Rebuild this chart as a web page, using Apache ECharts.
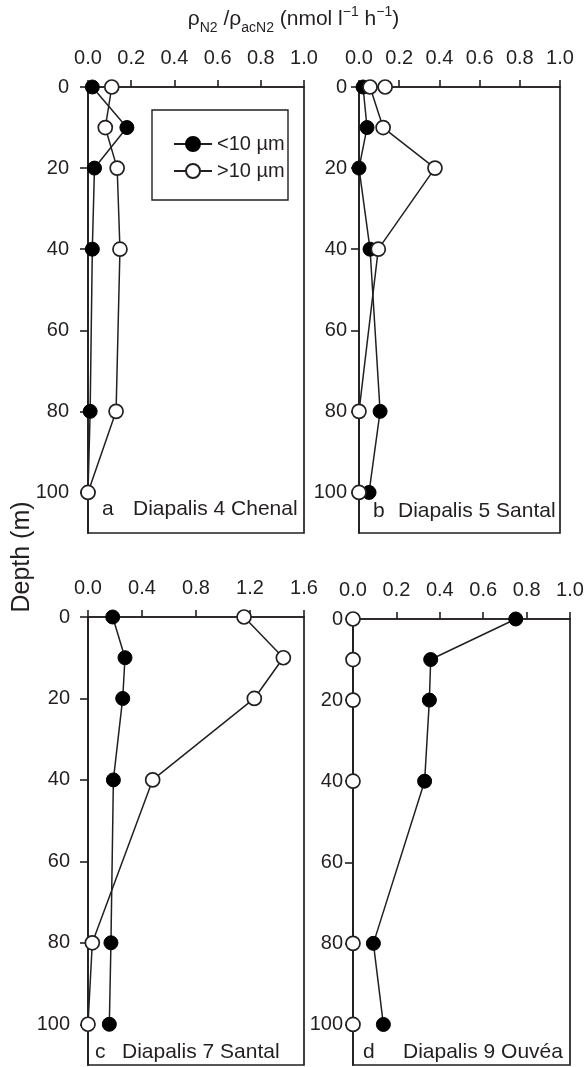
<!DOCTYPE html>
<html>
<head>
<meta charset="utf-8">
<script src="https://cdn.jsdelivr.net/npm/echarts@6/dist/echarts.min.js"></script>
<style>
html,body{margin:0;padding:0;background:#fff;}
#c{width:587px;height:1067px;}
</style>
</head>
<body>
<div id="c"></div>
<script>
// ---- data ----
const depths = [0, 10, 20, 40, 80, 100];
const depthTicks = [0, 20, 40, 60, 80, 100];
const xTicksAB = [0, 0.2, 0.4, 0.6, 0.8, 1.0];
const xTicksC = [0, 0.4, 0.8, 1.2, 1.6];
const seriesNames = ['<10 µm', '>10 µm'];
const panelLetters = ['a', 'b', 'c', 'd'];
const panelTitles = ['Diapalis 4 Chenal', 'Diapalis 5 Santal', 'Diapalis 7 Santal', 'Diapalis 9 Ouvéa'];

const aSmall = [0.02, 0.18, 0.03, 0.02, 0.01, 0.0];
const aLarge = [0.11, 0.08, 0.135, 0.148, 0.13, 0.0];
const bSmall = [0.02, 0.04, 0.0, 0.055, 0.105, 0.05];
const bLargeDepths = [0, 0, 10, 20, 40, 80, 100];
const bLarge = [0.13, 0.055, 0.12, 0.378, 0.096, 0.0, 0.0];
const cSmall = [0.183, 0.274, 0.257, 0.188, 0.17, 0.158];
const cLarge = [1.156, 1.447, 1.232, 0.479, 0.032, 0.0];
const dSmall = [0.75, 0.358, 0.352, 0.33, 0.094, 0.14];
const dLarge = [0.0, 0.0, 0.0, 0.0, 0.0, 0.0];

const xMax = [1.0, 1.0, 1.6, 1.0];
const xInterval = [0.2, 0.2, 0.4, 0.2];
const xTicks = [xTicksAB, xTicksAB, xTicksC, xTicksAB];
const depthMax = 110;

// ---- layout ----
const INK = '#231f20';
const FONT = 'Liberation Sans, Arial, Helvetica, sans-serif';
const grids = [
  {left: 88, top: 87, width: 216, height: 446},
  {left: 359, top: 87, width: 201, height: 446},
  {left: 88, top: 617, width: 216, height: 448},
  {left: 353, top: 619, width: 217, height: 446}
];
const yLabelMargin = [19, 12, 18, 10];
const labelPos = [
  {lx: 102, tx: 133, y: 509},
  {lx: 373, tx: 398, y: 511},
  {lx: 95, tx: 122, y: 1052},
  {lx: 363, tx: 403, y: 1052}
];

const pair = (vals, ds) => vals.map((v, k) => [v, (ds || depths)[k]]);
const panelData = [
  [pair(aSmall), pair(aLarge)],
  [pair(bSmall), pair(bLarge, bLargeDepths)],
  [pair(cSmall), pair(cLarge)],
  [pair(dSmall), pair(dLarge)]
];

const chart = echarts.init(document.getElementById('c'), null, {renderer: 'canvas'});

const gridOpt = grids.map(g => Object.assign({show: true, borderColor: INK, borderWidth: 1.7, backgroundColor: 'transparent'}, g));

const xAxes = grids.map((g, i) => ({
  type: 'value', gridIndex: i, position: 'top',
  min: 0, max: xMax[i], interval: xInterval[i],
  axisLine: {show: true, onZero: false, lineStyle: {color: INK, width: 1.7}},
  axisTick: {show: true, inside: false, length: 7, lineStyle: {color: INK, width: 1.6}, customValues: xTicks[i]},
  axisLabel: {show: true, margin: 19, color: INK, fontSize: 20, fontFamily: FONT,
    formatter: v => v.toFixed(1), customValues: xTicks[i]},
  splitLine: {show: false}
}));

const yAxes = grids.map((g, i) => ({
  type: 'value', gridIndex: i, inverse: true,
  min: 0, max: depthMax, interval: 20,
  axisLine: {show: true, onZero: false, lineStyle: {color: INK, width: 1.7}},
  axisTick: {show: true, inside: false, length: 8, lineStyle: {color: INK, width: 1.6}, customValues: depthTicks},
  axisLabel: {show: true, margin: yLabelMargin[i], color: INK, fontSize: 20, fontFamily: FONT,
    customValues: depthTicks},
  splitLine: {show: false}
}));

const series = [];
panelData.forEach((pd, i) => {
  series.push({
    name: seriesNames[0], type: 'line', xAxisIndex: i, yAxisIndex: i,
    data: pd[0], symbol: 'circle', symbolSize: 14, clip: false, z: 2,
    lineStyle: {color: INK, width: 1.5},
    itemStyle: {color: '#000', borderColor: '#000', borderWidth: 1},
    emphasis: {disabled: true}
  });
  series.push({
    name: seriesNames[1], type: 'line', xAxisIndex: i, yAxisIndex: i,
    data: pd[1], symbol: 'circle', symbolSize: 14, clip: false, z: 3,
    lineStyle: {color: INK, width: 1.5},
    itemStyle: {color: '#fff', borderColor: INK, borderWidth: 1.7},
    emphasis: {disabled: true}
  });
});

const graphics = [];
// title
graphics.push({
  type: 'text', left: 'center', top: 5, z: 10,
  style: {
    text: 'ρ{sub|N2} /ρ{sub|acN2} (nmol l{sup|−1} h{sup|−1})',
    fill: INK, font: '21px ' + FONT,
    rich: {
      sub: {fontSize: 14, fontFamily: FONT, fill: INK, verticalAlign: 'bottom', lineHeight: 14, padding: [0, 0, -3, 0]},
      sup: {fontSize: 14, fontFamily: FONT, fill: INK, verticalAlign: 'top', lineHeight: 14, padding: [-2, 0, 0, 0]}
    },
    lineHeight: 25
  }
});
// Depth label
graphics.push({
  type: 'text', x: 22, y: 557, rotation: Math.PI / 2, z: 10,
  style: {text: 'Depth (m)', fill: INK, font: '25px ' + FONT, align: 'center', verticalAlign: 'middle'}
});
// panel labels
labelPos.forEach((p, i) => {
  graphics.push({type: 'text', x: p.lx, y: p.y, z: 10,
    style: {text: panelLetters[i], fill: INK, font: '21px ' + FONT, align: 'left', verticalAlign: 'middle'}});
  graphics.push({type: 'text', x: p.tx, y: p.y, z: 10,
    style: {text: panelTitles[i], fill: INK, font: '21px ' + FONT, align: 'left', verticalAlign: 'middle'}});
});
// legend frame
graphics.push({type: 'rect', shape: {x: 152, y: 110, width: 136, height: 90}, z: 5,
  style: {fill: '#fff', stroke: INK, lineWidth: 1.4}});

chart.setOption({
  animation: false,
  backgroundColor: '#fff',
  grid: gridOpt,
  xAxis: xAxes,
  yAxis: yAxes,
  legend: {
    show: true, left: 168, top: 129, orient: 'vertical', z: 20,
    itemWidth: 38, itemHeight: 17.5, itemGap: 7, itemTextGap: 9,
    data: seriesNames,
    textStyle: {color: INK, fontSize: 20, fontFamily: FONT, lineHeight: 20},
    selectedMode: false
  },
  graphic: graphics,
  series: series
});
</script>
</body>
</html>
